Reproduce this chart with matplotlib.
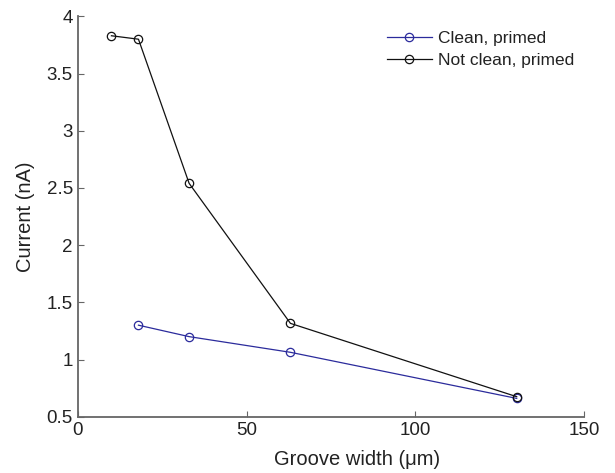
import matplotlib
matplotlib.use("Agg")
import matplotlib.pyplot as plt

plt.rcParams['font.family'] = ['Liberation Sans', 'DejaVu Sans']

clean_x = [18, 33, 63, 130]
clean_y = [1.30, 1.20, 1.063, 0.66]
notclean_x = [10, 18, 33, 63, 130]
notclean_y = [3.83, 3.80, 2.54, 1.316, 0.675]
xticks = [0, 50, 100, 150]
yticks = [0.5, 1, 1.5, 2, 2.5, 3, 3.5, 4]
ytick_labels = ['0.5', '1', '1.5', '2', '2.5', '3', '3.5', '4']

txt = '#222222'
axc = '#666666'

fig = plt.figure(figsize=(6.15, 4.73), dpi=100)
ax = fig.add_axes([0.1263, 0.119, 0.8237, 0.8465])

ax.plot(clean_x, clean_y, '-o', color='#2b2b9c', lw=0.9, ms=6,
        mfc='none', mew=0.9, label='Clean, primed')
ax.plot(notclean_x, notclean_y, '-o', color='#111111', lw=0.9, ms=6,
        mfc='none', mew=0.9, label='Not clean, primed')

ax.set_xlim(0, 150)
ax.set_ylim(0.5, 4)
ax.set_xticks(xticks)
ax.set_yticks(yticks)
ax.set_yticklabels(ytick_labels)

for s in ['top', 'right']:
    ax.spines[s].set_visible(False)
for s in ['left', 'bottom']:
    ax.spines[s].set_color(axc)
    ax.spines[s].set_linewidth(1.3)

ax.tick_params(direction='in', length=4, width=0.8, color=axc,
               labelsize=13.5, labelcolor=txt, pad=3.5)

ax.set_xlabel('Groove width (\u03bcm)', fontsize=14.5, color=txt, labelpad=8.5)
ax.xaxis.label.set_x(0.551)
ax.set_ylabel('Current (nA)', fontsize=14.5, color=txt, labelpad=8)

leg = ax.legend(loc='upper right', bbox_to_anchor=(0.9933, 0.9815), frameon=False,
                fontsize=12.5, handlelength=2.6, handletextpad=0.33,
                labelspacing=0.42, borderaxespad=0.0)
for t in leg.get_texts():
    t.set_color(txt)

fig.savefig('out.png', dpi=100)
